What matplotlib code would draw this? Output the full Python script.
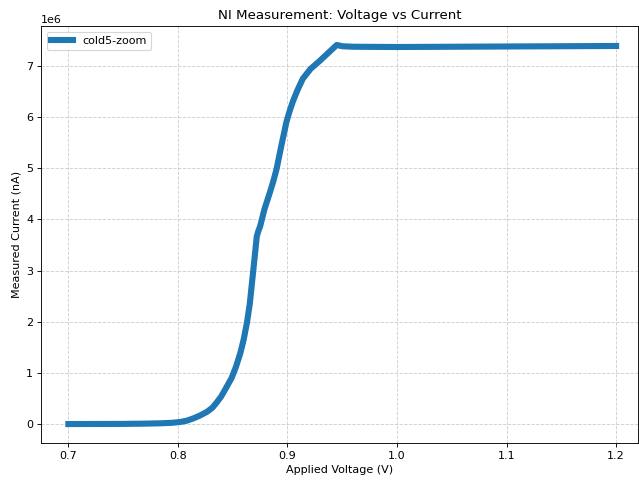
import matplotlib.pyplot as plt
import numpy as np

voltage = [0.70, 0.75, 0.77, 0.785, 0.795, 0.802, 0.808, 0.814, 0.8205, 0.8266, 0.8315,
           0.8357, 0.8395, 0.843, 0.849, 0.853, 0.857, 0.860, 0.863, 0.8656, 0.8676,
           0.870, 0.872, 0.8735, 0.875, 0.879, 0.884, 0.887, 0.890, 0.8945, 0.899,
           0.902, 0.905, 0.909, 0.914, 0.921, 0.9295, 0.937, 0.945, 0.95, 0.96,
           1.00, 1.05, 1.10, 1.15, 1.20]
current = [0.0, 0.003e6, 0.008e6, 0.015e6, 0.025e6, 0.04e6, 0.065e6, 0.11e6, 0.17e6, 0.24e6, 0.32e6,
           0.43e6, 0.54e6, 0.67e6, 0.90e6, 1.12e6, 1.39e6, 1.65e6, 1.98e6, 2.35e6, 2.76e6,
           3.25e6, 3.67e6, 3.78e6, 3.86e6, 4.20e6, 4.53e6, 4.74e6, 4.98e6, 5.45e6, 5.90e6,
           6.12e6, 6.31e6, 6.52e6, 6.75e6, 6.94e6, 7.10e6, 7.25e6, 7.41e6, 7.385e6, 7.375e6,
           7.37e6, 7.375e6, 7.38e6, 7.385e6, 7.39e6]

plt.figure(figsize=(639 / 80, 481 / 80), dpi=80)
plt.plot(voltage, current, color="#1f77b4", linewidth=5.5, label="cold5-zoom")
plt.title("NI Measurement: Voltage vs Current")
plt.xlabel("Applied Voltage (V)")
plt.ylabel("Measured Current (nA)")
plt.grid(True, linestyle="--", alpha=0.6)
plt.legend(loc="upper left")
plt.xlim(0.675, 1.22)
plt.subplots_adjust(left=41 / 639, right=638 / 639, top=1 - 26 / 481, bottom=1 - 443 / 481)
plt.savefig("out.png")
plt.close()
